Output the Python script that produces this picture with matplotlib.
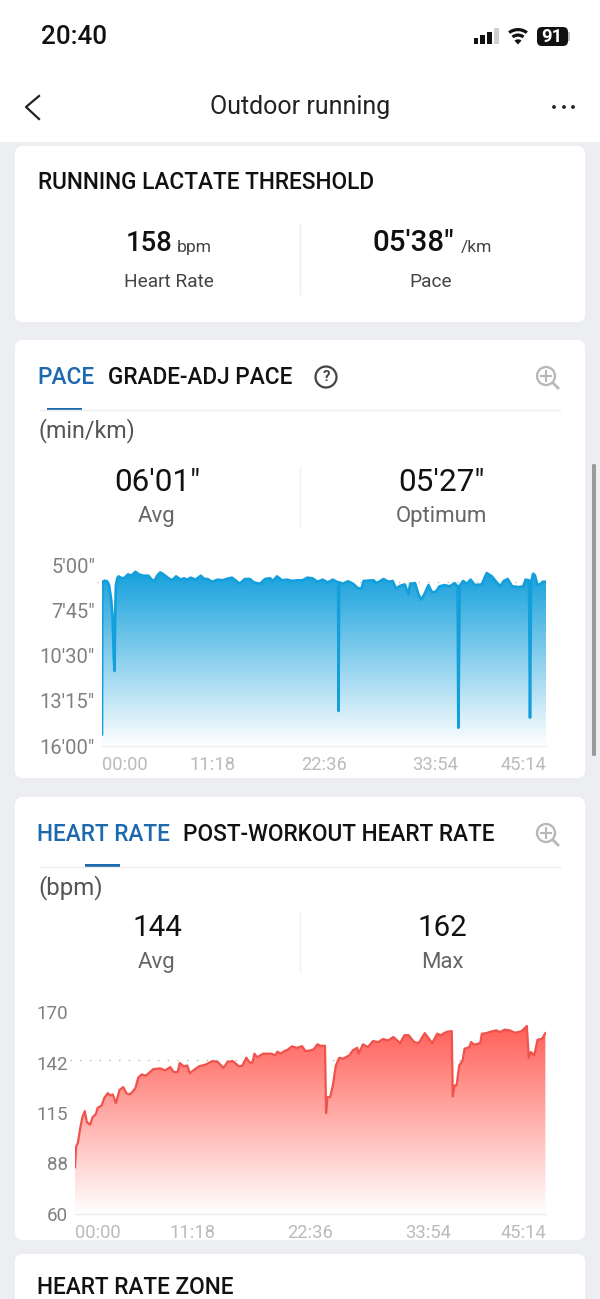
import numpy as np
import matplotlib
matplotlib.use("Agg")
import matplotlib.pyplot as plt
from matplotlib.patches import FancyBboxPatch, Rectangle, Circle, Wedge, Polygon
from matplotlib.colors import LinearSegmentedColormap

plt.rcParams['font.family'] = ['Roboto', 'DejaVu Sans']

pace_t = [0,.03,.24,.52,.72,.93,1.07,1.21,1.28,1.34,1.41,1.55,1.69,2.03,2.31,2.65,3.0,3.41,3.76,4.21,4.72,5.07,5.34,5.62,5.93,6.27,6.79,7.14,7.55,8.0,8.34,8.69,9.03,9.55,10.07,10.41,10.75,11.2,11.79,12.31,12.65,13.24,13.68,14.03,14.55,15.06,15.48,16.1,16.61,17.13,17.41,17.82,18.34,18.86,19.37,19.89,20.41,20.92,21.44,21.96,22.47,22.99,23.51,23.92,24.06,24.09,24.16,24.54,25.06,25.58,26.09,26.44,26.65,27.13,27.65,27.99,28.68,29.2,29.61,29.95,30.4,30.85,31.2,31.4,31.89,32.23,32.51,32.85,33.26,33.61,34.02,34.37,34.88,35.4,35.92,36.23,36.3,36.44,36.78,37.19,37.54,37.99,38.68,39.19,39.71,40.16,40.57,40.92,41.33,41.78,42.47,42.91,43.15,43.5,43.6,43.71,43.91,44.09,44.36,44.71,44.88,45.23]
pace_min = [15.29,6.06,5.95,5.99,6.22,7.07,8.09,10.72,11.44,8.09,6.26,5.81,5.69,5.81,5.77,5.57,5.65,5.41,5.57,5.65,5.65,5.89,5.97,5.65,5.45,5.57,5.81,5.93,5.69,5.89,5.81,5.89,5.77,5.89,5.65,5.85,5.85,6.02,5.89,5.93,5.85,5.77,5.97,6.14,5.85,5.85,6.06,6.14,5.85,5.81,5.97,5.69,5.93,5.89,5.97,5.93,5.93,5.77,5.81,6.02,5.89,6.06,5.89,6.02,6.06,13.87,6.06,6.14,5.99,6.14,6.42,6.42,5.97,5.95,5.93,6.10,5.85,6.02,5.97,6.42,6.26,6.18,6.77,6.14,6.10,6.77,7.11,6.77,6.22,6.66,6.62,6.30,6.22,6.30,6.10,6.30,14.89,6.26,5.97,6.14,5.89,6.22,6.18,5.49,5.69,6.02,6.30,5.97,5.85,6.30,6.34,6.30,5.89,5.93,14.28,6.06,5.53,5.61,6.22,6.14,6.02,6.02]

hr_t = [0,.10,.29,.49,.71,.94,1.14,1.46,1.69,2.01,2.17,2.56,2.82,3.15,3.41,3.63,3.93,4.28,4.64,4.93,5.26,5.58,5.81,6.07,6.39,6.78,7.20,7.53,8.18,8.66,9.15,9.48,9.86,10.06,10.45,10.77,11.03,11.58,11.91,12.56,13.21,13.69,14.25,14.67,15.15,15.74,16.06,16.45,16.78,17.04,17.23,17.49,18.07,18.89,19.21,19.44,19.76,20.09,20.41,20.83,21.32,21.81,22.13,22.62,22.94,23.27,23.59,24.01,24.11,24.24,24.50,24.76,25.05,25.38,25.70,26.35,26.67,27.10,27.23,27.65,28.13,28.62,29.11,29.59,30.08,30.57,31.22,31.64,32.03,32.58,33.0,33.59,34.30,34.79,35.11,35.44,35.76,36.18,36.28,36.44,36.64,36.90,37.22,37.41,37.87,38.03,38.36,38.91,39.07,39.49,39.98,40.47,40.79,41.28,41.76,42.25,42.90,43.39,43.58,43.78,44.10,44.42,44.85,45.17]
hr_bpm = [85.5,96.4,99.1,106.4,112.7,116.0,110.0,108.7,112.7,114.5,117.8,119.1,123.3,125.8,124.5,125.1,120.4,127.6,129.1,125.8,125.1,126.9,128.7,134.2,136.0,135.3,137.3,138.9,139.3,138.2,140.0,137.3,137.3,142.2,140.4,140.9,136.7,139.1,140.4,141.4,143.3,142.9,139.6,142.9,143.3,140.4,140.7,145.1,142.5,142.5,147.3,145.4,147.3,147.3,146.4,148.4,147.3,148.7,149.4,151.3,150.5,151.4,148.7,149.1,149.8,152.4,151.6,151.6,114.9,123.6,123.6,130.0,140.9,145.1,144.5,146.4,149.1,150.5,147.3,152.4,150.9,154.2,153.6,155.3,154.5,156.4,153.1,157.4,157.4,153.6,153.1,158.5,153.1,158.2,157.3,158.5,159.3,159.6,124.0,130.0,130.0,140.9,143.6,150.0,150.9,153.6,152.2,153.1,158.2,158.5,159.4,160.0,159.1,160.4,160.0,158.7,159.6,162.4,145.1,148.2,146.4,154.9,155.4,158.5]

time_ticks = [0, 11.3, 22.6, 33.9, 45.23]
time_labels = ["00:00", "11:18", "22:36", "33:54", "45:14"]
pace_ticks = [5, 7.75, 10.5, 13.25, 16]
pace_labels = ["5'00\"", "7'45\"", "10'30\"", "13'15\"", "16'00\""]
hr_ticks = [60, 87.5, 115, 142.5, 170]
hr_labels = ["60", "88", "115", "142", "170"]
pace_avg = 6.02
hr_avg = 144

W, H = 600, 1299
fig = plt.figure(figsize=(6, 12.99), dpi=100, facecolor='#eceef1')
bg = fig.add_axes([0, 0, 1, 1])
bg.set_xlim(0, W); bg.set_ylim(H, 0); bg.axis('off')

def T(x, y, s, px, c='#111111', ha='center', w='normal', va='center'):
    bg.text(x, y + 1, s, fontsize=px * 0.72, color=c, ha=ha, va=va, fontweight=w)

def card(x0, y0, x1, y1):
    bg.add_patch(FancyBboxPatch((x0 + 8, y0 + 8), x1 - x0 - 16, y1 - y0 - 16,
                                boxstyle="round,pad=8,rounding_size=8", fc='white', ec='none'))

def magnifier(cx, cy):
    c = '#b5bab8'
    bg.add_patch(Circle((cx, cy), 9, fc='none', ec=c, lw=1.7))
    bg.plot([cx - 5, cx + 5], [cy, cy], color=c, lw=1.5)
    bg.plot([cx, cx], [cy - 5, cy + 5], color=c, lw=1.5)
    bg.plot([cx + 7, cx + 12], [cy + 7, cy + 12], color=c, lw=2)

# top bar
bg.add_patch(Rectangle((0, 0), W, 142, fc='white', ec='none'))
T(74.5, 35.5, "20:40", 26, w='medium')
for i, h in enumerate([6, 9, 12, 16]):
    bg.add_patch(Rectangle((473.5 + i * 6.8, 44 - h), 4.8, h, fc='#111111' if i < 3 else '#d0d0d0', ec='none'))
for r, wd in [(16, 3.2), (10.5, 3.2)]:
    bg.add_patch(Wedge((518, 44), r, 232, 308, width=wd, fc='#111111', ec='none'))
bg.add_patch(Wedge((518, 44.5), 5.2, 228, 312, fc='#111111', ec='none'))
bg.add_patch(FancyBboxPatch((540, 30), 25, 13, boxstyle="round,pad=3,rounding_size=5", fc='#111111', ec='none'))
bg.add_patch(Rectangle((568, 32), 2, 9, fc='#bbbbbb', ec='none'))
T(552, 35.5, "91", 18.5, c='white', w='bold')
bg.plot([39, 26, 39], [96, 107, 119], color='#222222', lw=1.6)
T(300, 105.5, "Outdoor running", 25, c='#222222')
for x in [554, 564, 573]:
    bg.add_patch(Circle((x, 107), 1.9, fc='#222222', ec='none'))

# threshold card
card(15, 146, 585, 322)
T(38, 181, "RUNNING LACTATE THRESHOLD", 22.6, ha='left', w='medium')
T(126, 242, "158", 27.5, ha='left', w='medium')
T(177, 246, "bpm", 17.5, c='#444444', ha='left')
T(169, 281, "Heart Rate", 19, c='#444444')
bg.plot([300, 300], [224, 294], color='#eeeeee', lw=1)
T(373, 242, "05′38″", 29.5, ha='left', w='medium')
T(461, 246, "/km", 17.5, c='#444444', ha='left')
T(431, 281, "Pace", 19, c='#444444')

# pace card
card(15, 340, 585, 778)
T(37, 376, "PACE", 22.6, c='#1d69ae', ha='left', w='medium')
T(108, 376, "GRADE-ADJ PACE", 22.6, ha='left', w='medium')
bg.add_patch(Circle((326, 377), 10.5, fc='none', ec='#444444', lw=1.6))
T(326, 376, "?", 15, c='#444444', w='bold')
magnifier(546, 376)
bg.plot([40, 560], [409.5, 409.5], color='#eeeeee', lw=1)
bg.add_patch(Rectangle((47, 408), 35, 2.5, fc='#1d69ae', ec='none'))
T(38, 430, "(min/km)", 23.2, c='#555555', ha='left')
T(157, 481, "06'01\"", 31.5, c='#111111')
T(157, 515, "Avg", 22.3, c='#666666')
bg.plot([300, 300], [468, 526], color='#f0f0f0', lw=1)
T(441, 481, "05'27\"", 31.5, c='#111111')
T(441, 515, "Optimum", 22.3, c='#666666')

# heart-rate card
card(15, 797, 585, 1240)
T(37, 833, "HEART RATE", 22.6, c='#1d69ae', ha='left', w='medium')
T(183, 833, "POST-WORKOUT HEART RATE", 22.6, ha='left', w='medium')
magnifier(546, 833)
bg.plot([40, 560], [866.5, 866.5], color='#eeeeee', lw=1)
bg.add_patch(Rectangle((85, 864), 35, 2.5, fc='#1d69ae', ec='none'))
T(38, 887, "(bpm)", 24, c='#555555', ha='left')
T(157, 927, "144", 29.5, c='#111111')
T(157, 961, "Avg", 22.3, c='#666666')
bg.plot([300, 300], [912, 972], color='#f0f0f0', lw=1)
T(442, 927, "162", 29.5, c='#111111')
T(442, 961, "Max", 22.3, c='#666666')

# zone card
card(15, 1254, 585, 1330)
T(37, 1287, "HEART RATE ZONE", 22.6, ha='left', w='medium')

# scrollbar
bg.add_patch(FancyBboxPatch((593, 465), 2, 290, boxstyle="round,pad=1,rounding_size=1.5", fc='#9a9a9a', ec='none'))


def chart(x0, x1, ytop, ybot, t, v, ylim, yticks, ylabels, ysize, avg, col, topcol, dotcol, lw, gradtop):
    ax = fig.add_axes([x0 / W, 1 - ybot / H, (x1 - x0) / W, (ybot - ytop) / H], facecolor='none')
    ax.spines[['top', 'left', 'right']].set_visible(False)
    ax.spines['bottom'].set_color('#eeeeee')
    ax.spines['bottom'].set_linewidth(1)
    ax.plot([-0.5, 45.23], [avg, avg], color=dotcol, lw=1, ls=(0, (1, 6)), zorder=1, clip_on=False)
    poly = ax.fill_between(t, v, ylim[0], color='none', zorder=2)
    cmap = LinearSegmentedColormap.from_list('g', [topcol, '#ffffff'])
    grad = np.linspace(0, 1, 256).reshape(-1, 1)
    im = ax.imshow(grad, cmap=cmap, aspect='auto', extent=[0, 45.23, ylim[0], gradtop], zorder=2, vmin=0, vmax=1)
    im.set_clip_path(poly.get_paths()[0], ax.transData)
    ax.set_xlim(0, 45.23)
    ax.set_ylim(*ylim)
    ax.plot(t, v, color=col, lw=lw, zorder=3, solid_joinstyle='round')
    ax.set_xticks(time_ticks, time_labels)
    ax.set_yticks(yticks, ylabels)
    ax.tick_params(axis='x', length=0, pad=7, labelsize=13.2, labelcolor='#bbbbbb')
    ax.tick_params(axis='y', length=0, pad=5, labelsize=ysize, labelcolor='#808080')
    lb = ax.get_xticklabels()
    lb[0].set_ha('left')
    lb[-1].set_ha('right')
    return ax


chart(102, 546, 565, 746, pace_t, pace_min, (16, 5), pace_ticks, pace_labels, 14.5, pace_avg,
      '#139fdb', '#15a0dc', '#d8b8a8', 1.9, 5.4)
chart(75, 546, 1012, 1214, hr_t, hr_bpm, (60, 170), hr_ticks, hr_labels, 13.5, hr_avg,
      '#f0524c', '#ff5f57', '#c8b8a8', 1.6, 163)

fig.savefig('out.png', dpi=100)
